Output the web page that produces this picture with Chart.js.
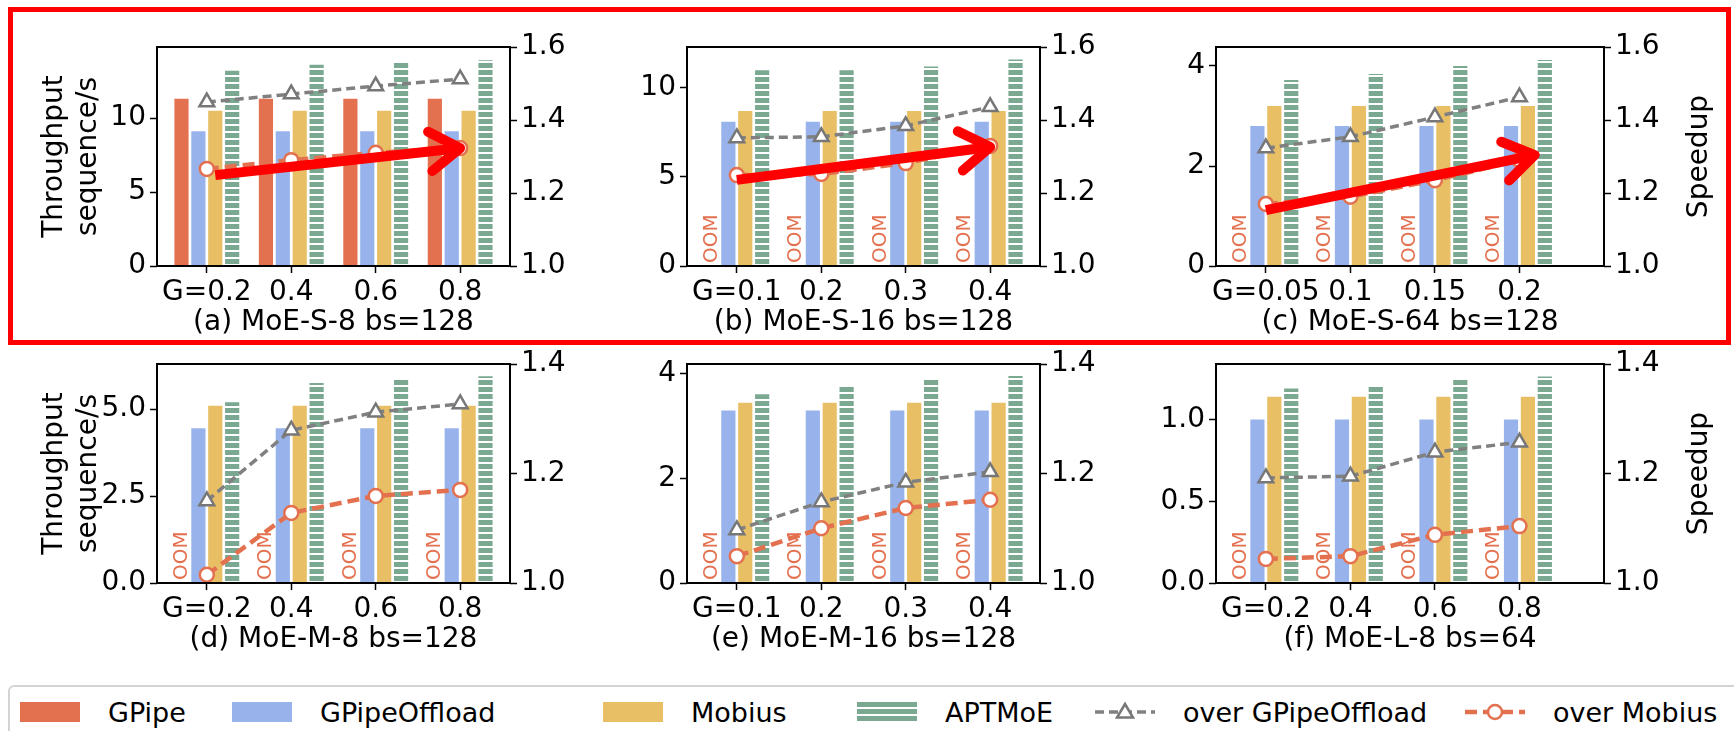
<!DOCTYPE html>
<html>
<head>
<meta charset="utf-8">
<title>APTMoE throughput and speedup</title>
<script src="https://cdn.jsdelivr.net/npm/chart.js@4.4.1/dist/chart.umd.min.js"></script>
<style>
  body { margin: 0; background: #fff; }
  #page { position: relative; width: 1734px; height: 731px; overflow: hidden; font-family: "DejaVu Sans", sans-serif; }
  #page canvas { position: absolute; }
  #redbox { position: absolute; left: 8px; top: 7px; width: 1723px; height: 338px; border: 5px solid #ff0000; box-sizing: border-box; z-index: 5; }
  #legendbox { position: absolute; left: 8px; top: 685px; width: 1760px; height: 90px; border: 2px solid #d4d4d4; border-radius: 6px; box-sizing: border-box; }
  .item { position: absolute; top: 694px; height: 36px; display: flex; align-items: center; font-size: 27px; color: #000; white-space: nowrap; }
  .item .h { width: 60px; height: 20px; margin-right: 28px; flex: none; }
  .item svg { margin-right: 28px; flex: none; }
</style>
</head>
<body>
<div id="page">
  <div id="redbox"></div>
  <div id="legendbox"></div>
</div>
<script>
// ---- data ----
const seriesNames = ["GPipe", "GPipeOffload", "Mobius", "APTMoE"];
const lineNames = ["over GPipeOffload", "over Mobius"];
const panelTitles = [
  "(a) MoE-S-8 bs=128", "(b) MoE-S-16 bs=128", "(c) MoE-S-64 bs=128",
  "(d) MoE-M-8 bs=128", "(e) MoE-M-16 bs=128", "(f) MoE-L-8 bs=64"
];
const gLabels = [
  ["G=0.2", "0.4", "0.6", "0.8"],
  ["G=0.1", "0.2", "0.3", "0.4"],
  ["G=0.05", "0.1", "0.15", "0.2"],
  ["G=0.2", "0.4", "0.6", "0.8"],
  ["G=0.1", "0.2", "0.3", "0.4"],
  ["G=0.2", "0.4", "0.6", "0.8"]
];
// null = OOM
const gpipe = [[11.3, 11.3, 11.3, 11.3], null, null, null, null, null];
const gpipeOffload = [
  [9.1, 9.1, 9.1, 9.1], [8.1, 8.1, 8.1, 8.1], [2.8, 2.8, 2.8, 2.8],
  [4.45, 4.45, 4.45, 4.45], [3.3, 3.3, 3.3, 3.3], [1.0, 1.0, 1.0, 1.0]
];
const mobius = [
  [10.5, 10.5, 10.5, 10.5], [8.7, 8.7, 8.7, 8.7], [3.2, 3.2, 3.2, 3.2],
  [5.1, 5.1, 5.1, 5.1], [3.45, 3.45, 3.45, 3.45], [1.14, 1.14, 1.14, 1.14]
];
const aptmoe = [
  [13.2, 13.6, 13.8, 13.9], [11.0, 11.0, 11.2, 11.6], [3.72, 3.84, 4.0, 4.12],
  [5.2, 5.75, 5.86, 5.95], [3.61, 3.77, 3.9, 3.96], [1.19, 1.21, 1.245, 1.264]
];
const speedupOffload = [
  [1.449, 1.471, 1.493, 1.512], [1.351, 1.354, 1.384, 1.436], [1.323, 1.354, 1.408, 1.463],
  [1.150, 1.279, 1.312, 1.327], [1.097, 1.148, 1.184, 1.203], [1.192, 1.195, 1.239, 1.257]
];
const speedupMobius = [
  [1.266, 1.29, 1.31, 1.323], [1.249, 1.252, 1.282, 1.329], [1.17, 1.19, 1.235, 1.29],
  [1.015, 1.128, 1.159, 1.170], [1.049, 1.100, 1.137, 1.152], [1.044, 1.049, 1.088, 1.104]
];
const leftMax = [14.8, 12.3, 4.38, 6.3, 4.19, 1.34];
const leftTicks = [[0, 5, 10], [0, 5, 10], [0, 2, 4], [0, 2.5, 5], [0, 2, 4], [0, 0.5, 1]];
const leftDecimals = [0, 0, 0, 1, 0, 1];
const rightMax = [1.6, 1.6, 1.6, 1.4, 1.4, 1.4];
const rightTicks = [
  [1.0, 1.2, 1.4, 1.6], [1.0, 1.2, 1.4, 1.6], [1.0, 1.2, 1.4, 1.6],
  [1.0, 1.2, 1.4], [1.0, 1.2, 1.4], [1.0, 1.2, 1.4]
];
// red highlight arrows on the top row: [xStart, speedupStart, xEnd, speedupEnd]
const arrows = [[0.1, 1.249, 3.0, 1.323], [0.0, 1.236, 3.0, 1.326], [0.0, 1.153, 3.18, 1.304]];

// ---- style / layout ----
const colors = ["#e3704f", "#98b3ec", "#e9bf66", "#7aa891"];
const grayLine = "#808080";
const orangeLine = "#e3704f";
const plotLefts = [157, 687, 1216];
const plotWidths = [353, 353, 388];
const xMaxByCol = [3.59, 3.59, 4.0];
const plotTops = [47, 364];
const PH = 219, LW = 157, RW = 140, XH = 80, TOP = 47;

Chart.defaults.font.family = '"DejaVu Sans", sans-serif';
Chart.defaults.font.size = 28;
Chart.defaults.color = "#000";

const page = document.getElementById("page");

function drawArrow(ctx, x0, y0, x1, y1) {
  const ang = Math.atan2(y1 - y0, x1 - x0);
  const head = 36, spread = 0.58;
  ctx.save();
  ctx.strokeStyle = "#ff0000";
  ctx.lineWidth = 10;
  ctx.lineCap = "butt";
  ctx.beginPath();
  ctx.moveTo(x0, y0);
  ctx.lineTo(x1 - 4 * Math.cos(ang), y1 - 4 * Math.sin(ang));
  ctx.stroke();
  ctx.lineCap = "round";
  ctx.lineJoin = "round";
  ctx.beginPath();
  ctx.moveTo(x1 - head * Math.cos(ang - spread), y1 - head * Math.sin(ang - spread));
  ctx.lineTo(x1, y1);
  ctx.lineTo(x1 - head * Math.cos(ang + spread), y1 - head * Math.sin(ang + spread));
  ctx.stroke();
  ctx.restore();
}

const decor = {
  id: "decor",
  beforeDatasetsDraw(chart) {
    const p = chart.options.plugins.decor.panel;
    if (gpipe[p]) return;
    const ctx = chart.ctx, area = chart.chartArea;
    const meta = chart.getDatasetMeta(0);
    ctx.save();
    ctx.fillStyle = "#e3704f";
    ctx.font = '20px "DejaVu Sans"';
    ctx.textAlign = "left";
    ctx.textBaseline = "middle";
    meta.data.forEach(bar => {
      ctx.save();
      ctx.translate(bar.x, area.bottom - 3);
      ctx.rotate(-Math.PI / 2);
      ctx.fillText("OOM", 0, 0);
      ctx.restore();
    });
    ctx.restore();
  },
  afterDraw(chart) {
    const p = chart.options.plugins.decor.panel;
    const ctx = chart.ctx, area = chart.chartArea;
    ctx.save();
    ctx.strokeStyle = "#000";
    ctx.lineWidth = 2;
    ctx.strokeRect(area.left, area.top, area.width, area.height);
    ctx.restore();

    if (p % 3 === 2) {
      ctx.save();
      ctx.font = '28px "DejaVu Sans"';
      ctx.fillStyle = "#000";
      ctx.textAlign = "center";
      ctx.textBaseline = "middle";
      ctx.translate(area.right + 96, (area.top + area.bottom) / 2);
      ctx.rotate(-Math.PI / 2);
      ctx.fillText("Speedup", 0, 0);
      ctx.restore();
    }

    if (p < 3) {
      const a = arrows[p];
      const xs = chart.scales.x, ys = chart.scales.y1;
      drawArrow(ctx, xs.getPixelForValue(a[0]), ys.getPixelForValue(a[1]),
        xs.getPixelForValue(a[2]), ys.getPixelForValue(a[3]));
    }
  }
};

function pts(arr) {
  return arr ? arr.map((v, i) => ({ x: i, y: v })) : [0, 1, 2, 3].map(i => ({ x: i, y: null }));
}

function makePanel(p) {
  const col = p % 3, row = Math.floor(p / 3);
  const PW = plotWidths[col];
  const canvas = document.createElement("canvas");
  canvas.width = LW + PW + RW;
  canvas.height = TOP + PH + XH;
  canvas.style.left = (plotLefts[col] - LW) + "px";
  canvas.style.top = (plotTops[row] - TOP) + "px";
  page.appendChild(canvas);
  const ctx = canvas.getContext("2d");

  const tile = document.createElement("canvas");
  tile.width = 8; tile.height = 7;
  const t = tile.getContext("2d");
  t.fillStyle = colors[3]; t.fillRect(0, 0, 8, 7);
  t.fillStyle = "#ffffff"; t.fillRect(0, 5, 8, 2);
  const hatch = ctx.createPattern(tile, "repeat");

  const barBase = { type: "bar", yAxisID: "y", borderWidth: 0, categoryPercentage: 0.8, barPercentage: 0.84, order: 2 };
  const datasets = [
    Object.assign({}, barBase, { label: seriesNames[0], data: pts(gpipe[p]), backgroundColor: colors[0] }),
    Object.assign({}, barBase, { label: seriesNames[1], data: pts(gpipeOffload[p]), backgroundColor: colors[1] }),
    Object.assign({}, barBase, { label: seriesNames[2], data: pts(mobius[p]), backgroundColor: colors[2] }),
    Object.assign({}, barBase, { label: seriesNames[3], data: pts(aptmoe[p]), backgroundColor: hatch }),
    {
      type: "line", label: lineNames[1], yAxisID: "y1", order: 0,
      data: pts(speedupMobius[p]),
      borderColor: orangeLine, borderWidth: 4.5, borderDash: [12, 6],
      pointStyle: "circle", pointRadius: 7, pointBackgroundColor: "#fff",
      pointBorderColor: orangeLine, pointBorderWidth: 2.5
    },
    {
      type: "line", label: lineNames[0], yAxisID: "y1", order: 1,
      data: pts(speedupOffload[p]),
      borderColor: grayLine, borderWidth: 3.5, borderDash: [9, 5],
      pointStyle: "triangle", pointRadius: 8.5, pointBackgroundColor: "#fff",
      pointBorderColor: "#777", pointBorderWidth: 2.5
    }
  ];

  const tickGrid = { drawOnChartArea: false, drawTicks: true, tickLength: 7, tickColor: "#000", tickWidth: 1.5, offset: false };

  new Chart(ctx, {
    type: "bar",
    data: { datasets },
    options: {
      responsive: false,
      animation: false,
      events: [],
      layout: { padding: { top: TOP, left: 0, right: 0, bottom: 0 } },
      plugins: { legend: { display: false }, tooltip: { enabled: false }, decor: { panel: p } },
      scales: {
        x: {
          type: "linear", min: -0.59, max: xMaxByCol[col], offset: false,
          grid: tickGrid, border: { display: false },
          afterBuildTicks: s => { s.ticks = [0, 1, 2, 3].map(v => ({ value: v })); },
          afterFit: s => { s.height = XH; },
          ticks: { autoSkip: false, maxRotation: 0, minRotation: 0, padding: 3,
            callback: (v, i) => gLabels[p][i] },
          title: { display: true, text: panelTitles[p], padding: { top: 0, bottom: 6 } }
        },
        y: {
          position: "left", min: 0, max: leftMax[p],
          grid: tickGrid, border: { display: false },
          afterBuildTicks: s => { s.ticks = leftTicks[p].map(v => ({ value: v })); },
          afterFit: s => { s.width = LW; },
          ticks: { autoSkip: false, padding: 4, callback: v => v.toFixed(leftDecimals[p]) },
          title: { display: col === 0, text: ["Throughput", "sequence/s"], padding: { top: 38, bottom: 0 } }
        },
        y1: {
          position: "right", min: 1.0, max: rightMax[p],
          grid: tickGrid, border: { display: false },
          afterBuildTicks: s => { s.ticks = rightTicks[p].map(v => ({ value: v })); },
          afterFit: s => { s.width = RW; },
          ticks: { autoSkip: false, padding: 4, callback: v => v.toFixed(1) }
        }
      }
    },
    plugins: [decor]
  });
}

for (let p = 0; p < 6; p++) makePanel(p);

// ---- legend ----
const legendX = [20, 232, 603, 857, 1095, 1465];
function addItem(x, handleHtml, text) {
  const d = document.createElement("div");
  d.className = "item";
  d.style.left = x + "px";
  d.innerHTML = handleHtml + "<span>" + text + "</span>";
  page.appendChild(d);
}
addItem(legendX[0], '<div class="h" style="background:' + colors[0] + '"></div>', seriesNames[0]);
addItem(legendX[1], '<div class="h" style="background:' + colors[1] + '"></div>', seriesNames[1]);
addItem(legendX[2], '<div class="h" style="background:' + colors[2] + '"></div>', seriesNames[2]);
addItem(legendX[3], '<div class="h" style="background:repeating-linear-gradient(to bottom,' + colors[3] +
  ' 0px,' + colors[3] + ' 5px,#fff 5px,#fff 7px)"></div>', seriesNames[3]);
addItem(legendX[4],
  '<svg width="60" height="24"><line x1="0" y1="12" x2="60" y2="12" stroke="' + grayLine +
  '" stroke-width="3.5" stroke-dasharray="9 5"/><polygon points="30,4 38,17.5 22,17.5" fill="#fff" stroke="#777" stroke-width="2.5"/></svg>',
  lineNames[0]);
addItem(legendX[5],
  '<svg width="60" height="24"><line x1="0" y1="12" x2="60" y2="12" stroke="' + orangeLine +
  '" stroke-width="4.5" stroke-dasharray="12 6"/><circle cx="30" cy="12" r="7" fill="#fff" stroke="' + orangeLine +
  '" stroke-width="2.5"/></svg>',
  lineNames[1]);
</script>
</body>
</html>
